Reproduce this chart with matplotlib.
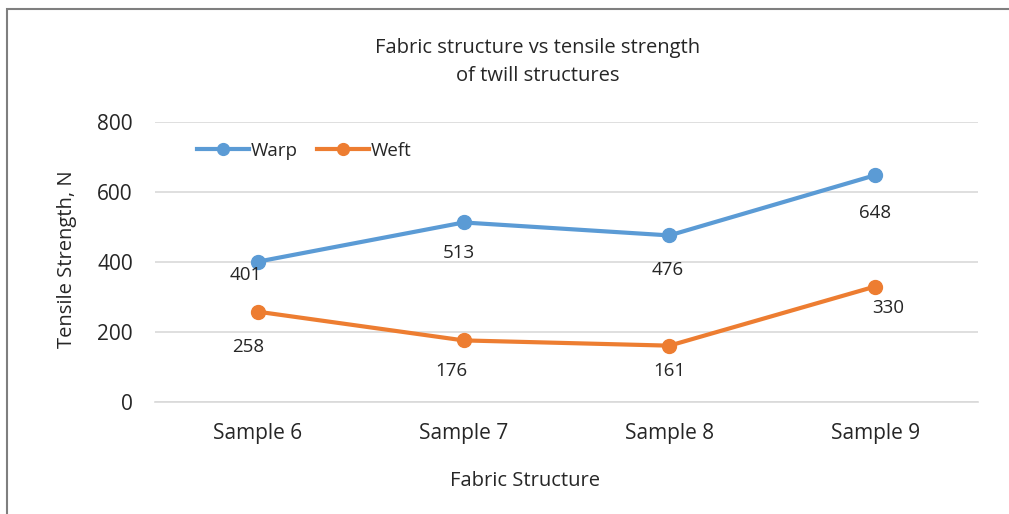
import matplotlib.pyplot as plt
from matplotlib.patches import Rectangle

# data
samples = ['Sample 6', 'Sample 7', 'Sample 8', 'Sample 9']
warp = [401, 513, 476, 648]
weft = [258, 176, 161, 330]

plt.rcParams['font.family'] = ['Open Sans', 'DejaVu Sans']

BLUE = '#5B9BD5'
ORANGE = '#ED7D31'
GRID = '#D9D9D9'
TEXT = '#262626'

fig = plt.figure(figsize=(10.09, 5.14), dpi=100)
ax = fig.add_axes([0.1536, 0.2179, 0.8157, 0.5447])

x = range(len(samples))
ax.plot(x, warp, '-o', color=BLUE, lw=3, ms=10, label='Warp', zorder=3)
ax.plot(x, weft, '-o', color=ORANGE, lw=3, ms=10, label='Weft', zorder=3)

# value labels sit below each point (offsets in pixels)
warp_off = [(-12, -13), (-5, -31), (-2, -35), (0, -38)]
weft_off = [(-10, -35), (-12, -31), (0, -25), (13, -21)]
for xi, v, off in zip(x, warp, warp_off):
    ax.annotate(str(v), (xi, v), xytext=off, textcoords='offset pixels',
                ha='center', va='center', fontsize=13.5, color=TEXT)
for xi, v, off in zip(x, weft, weft_off):
    ax.annotate(str(v), (xi, v), xytext=off, textcoords='offset pixels',
                ha='center', va='center', fontsize=13.5, color=TEXT)

ax.set_xlim(-0.5, 3.5)
ax.set_ylim(0, 800)
ax.set_yticks([0, 200, 400, 600, 800])
ax.set_xticks(list(x))
ax.set_xticklabels(samples)
ax.tick_params(length=0, labelsize=15, colors=TEXT, pad=15)
ax.tick_params(axis='y', pad=16)
ax.grid(axis='y', color=GRID, lw=1.2)
ax.set_axisbelow(True)
for s in ['top', 'right', 'left']:
    ax.spines[s].set_visible(False)
ax.spines['bottom'].set_color(GRID)
ax.spines['bottom'].set_linewidth(1.2)

ax.set_ylabel('Tensile Strength, N', fontsize=14.5, color=TEXT)
ax.yaxis.set_label_coords(-0.095, 0.51)
ax.set_xlabel('Fabric Structure', fontsize=14.5, color=TEXT)
ax.xaxis.set_label_coords(0.45, -0.282)
ax.xaxis.label.set_va('center')

fig.text(0.533, 0.907, 'Fabric structure vs tensile strength', ha='center',
         va='center', fontsize=14.5, color=TEXT)
fig.text(0.533, 0.853, 'of twill structures', ha='center', va='center',
         fontsize=14.5, color=TEXT)

ax.legend(loc='upper left', bbox_to_anchor=(0.03, 0.99), ncol=2,
          frameon=False, fontsize=13.5, handlelength=2.8, columnspacing=1.0,
          handletextpad=0.1, labelcolor=TEXT, markerscale=0.85)

# chart border, cut off on the right and bottom
fig.patches.append(Rectangle((0.007, -0.1), 1.1, 1.083, transform=fig.transFigure,
                             fill=False, edgecolor='#7F7F7F', lw=1.5))

fig.savefig('out.png', dpi=100)
